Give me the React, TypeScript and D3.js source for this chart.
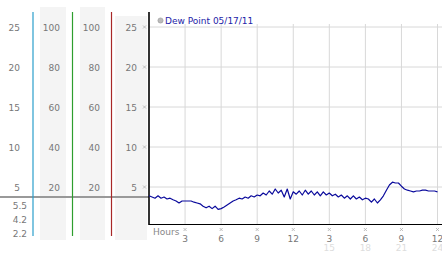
import React from "react";
import * as d3 from "d3";

const yTicks = [25, 20, 15, 10, 5];
const pctTicks = [100, 80, 60, 40, 20];
const statLabels = ["5.5", "4.2", "2.2"];
const hourTicks = [3, 6, 9, 12, 15, 18, 21, 24];
const hourLabels = ["3", "6", "9", "12", "3", "6", "9", "12"];
const hour24Labels = ["", "", "", "", "15", "18", "21", "24"];
const currentValue = 3.75;
const legendLabel = "Dew Point 05/17/11";

// dew point readings every 15 minutes
const dewPoint = [
  3.9, 3.75, 3.6, 3.9, 3.6, 3.75, 3.5, 3.6, 3.4, 3.25, 3.0, 3.25, 3.25, 3.25, 3.25, 3.1,
  3.0, 2.9, 2.6, 2.4, 2.6, 2.3, 2.6, 2.2, 2.3, 2.5, 2.75, 3.0, 3.25, 3.4, 3.6, 3.5,
  3.75, 3.6, 3.9, 3.75, 4.0, 3.9, 4.25, 4.0, 4.5, 4.1, 4.75, 4.25, 4.6, 3.75, 4.75, 3.5,
  4.4, 4.1, 4.5, 4.0, 4.6, 4.1, 4.5, 4.0, 4.4, 3.9, 4.4, 4.0, 4.25, 3.9, 4.1, 3.75,
  4.0, 3.6, 3.9, 3.5, 3.9, 3.5, 3.75, 3.4, 3.6, 3.5, 3.1, 3.5, 3.0, 3.4, 3.9, 4.6,
  5.25, 5.6, 5.5, 5.5, 5.1, 4.75, 4.6, 4.5, 4.4, 4.5, 4.5, 4.6, 4.6, 4.5, 4.5, 4.5, 4.4,
];
const hours = dewPoint.map((_, i) => i * 0.25);

const FONT = "DejaVu Sans, Verdana, sans-serif";

export default function App() {
  const W = 442, H = 253;
  const x = d3.scaleLinear().domain([0, 24]).range([149, 437.5]);
  const y = d3.scaleLinear().domain([0, 25]).range([227, 27]);
  const line = d3
    .line<number>()
    .x((_, i) => x(hours[i]))
    .y((d) => y(d));
  const plotTop = 12, plotBottom = 224.5, plotRight = 442;
  const cy = y(currentValue);

  const mark = (px: number, py: number, key: string) => (
    <g key={key} stroke="#b0b0b0" strokeWidth={0.8}>
      <line x1={px - 1.5} y1={py - 1.5} x2={px + 1.5} y2={py + 1.5} />
      <line x1={px - 1.5} y1={py + 1.5} x2={px + 1.5} y2={py - 1.5} />
    </g>
  );

  return (
    <svg width={W} height={H} style={{ position: "absolute", left: 0, top: 0, background: "#fff" }}>
      {/* left panel bands */}
      <rect x={40} y={7} width={26} height={233} fill="#f4f4f4" />
      <rect x={80} y={7} width={25} height={233} fill="#f4f4f4" />
      <rect x={115} y={16} width={32} height={224} fill="#f4f4f4" />

      {/* left labels */}
      {yTicks.map((t) => (
        <text key={"a" + t} x={20} y={y(t) + 3.5} fontSize={9} fill="#777" textAnchor="end" fontFamily={FONT}>
          {t}
        </text>
      ))}
      {pctTicks.map((t, i) => (
        <text key={"b" + t} x={60} y={y(yTicks[i]) + 3.5} fontSize={9} fill="#777" textAnchor="end" fontFamily={FONT}>
          {t}
        </text>
      ))}
      {pctTicks.map((t, i) => (
        <text key={"c" + t} x={100} y={y(yTicks[i]) + 3.5} fontSize={9} fill="#777" textAnchor="end" fontFamily={FONT}>
          {t}
        </text>
      ))}
      {yTicks.map((t) => (
        <text key={"d" + t} x={137} y={y(t) + 3.5} fontSize={9} fill="#777" textAnchor="end" fontFamily={FONT}>
          {t}
        </text>
      ))}
      {yTicks.map((t) => mark(144.5, y(t), "m" + t))}
      {statLabels.map((s, i) => (
        <text key={"s" + i} x={27} y={208.5 + i * 14} fontSize={9} fill="#777" textAnchor="end" fontFamily={FONT}>
          {s}
        </text>
      ))}

      {/* gridlines */}
      {yTicks.map((t) => (
        <line key={"gy" + t} x1={149} x2={plotRight} y1={y(t)} y2={y(t)} stroke="#d8d8d8" strokeWidth={1} />
      ))}
      {hourTicks.map((h) => (
        <line key={"gx" + h} x1={x(h)} x2={x(h)} y1={24} y2={plotBottom} stroke="#d8d8d8" strokeWidth={1} />
      ))}

      {/* current value line */}
      <line x1={0} x2={149} y1={cy} y2={cy} stroke="#999" strokeWidth={2} />

      {/* colored lines */}
      <line x1={33} x2={33} y1={12} y2={236} stroke="#2a9ecb" strokeWidth={1.2} />
      <line x1={72.5} x2={72.5} y1={12} y2={236} stroke="#2e9e2e" strokeWidth={1.2} />
      <line x1={111.5} x2={111.5} y1={12} y2={236} stroke="#a82828" strokeWidth={1.2} />

      {/* axes */}
      <line x1={149} x2={149} y1={plotTop} y2={plotBottom + 0.5} stroke="#000" strokeWidth={1.6} />
      <line x1={149} x2={plotRight} y1={plotBottom} y2={plotBottom} stroke="#000" strokeWidth={1} />

      {/* data */}
      <path d={line(dewPoint) || ""} fill="none" stroke="#0a0a9c" strokeWidth={1.2} strokeLinejoin="round" />

      {/* legend */}
      <circle cx={160.5} cy={20.5} r={2.6} fill="#bbb" stroke="#999" strokeWidth={0.6} />
      <text x={165} y={24} fontSize={9} fill="#2424a8" fontFamily={FONT}>
        {legendLabel}
      </text>

      {/* x axis labels */}
      <text x={153} y={234.5} fontSize={9} fill="#888" fontFamily={FONT}>
        Hours
      </text>
      {hourTicks.map((h, i) => (
        <g key={"xl" + h}>
          {mark(x(h), 229.5, "xm" + h)}
          <text x={x(h)} y={242} fontSize={9} fill="#777" textAnchor="middle" fontFamily={FONT}>
            {hourLabels[i]}
          </text>
          {hour24Labels[i] && (
            <text x={x(h)} y={251} fontSize={9} fill="#ddd" textAnchor="middle" fontFamily={FONT}>
              {hour24Labels[i]}
            </text>
          )}
        </g>
      ))}
    </svg>
  );
}
